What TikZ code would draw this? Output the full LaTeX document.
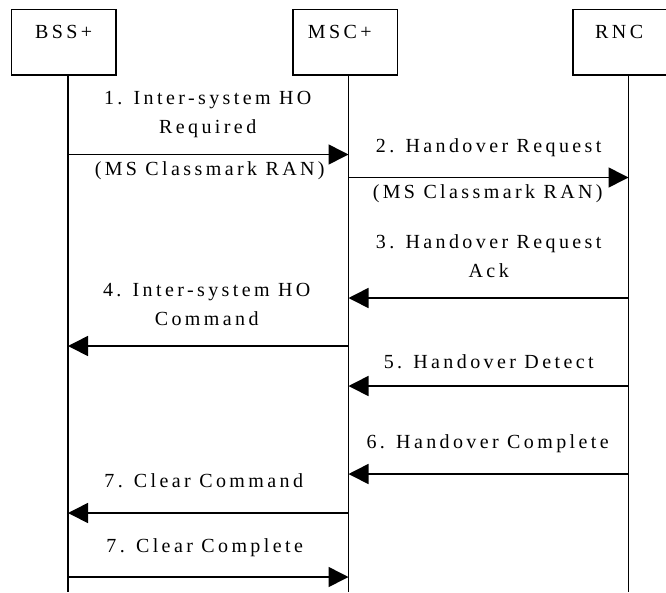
\documentclass[tikz,border=0pt]{standalone}
\usepackage{fontspec}
\setmainfont[LetterSpace=17]{Liberation Serif}
\usetikzlibrary{arrows.meta}

\tikzset{
  entity/.style={draw, line width=1.5pt, minimum width=104.5pt, minimum height=65.5pt,
                 inner sep=0pt, outer sep=0pt},
  lifeline/.style={line width=1.6pt},
  msg/.style={line width=1.6pt, -{Triangle[length=20pt,width=20pt]}},
  txt/.style={inner sep=0pt, anchor=base, align=center,
              font=\fontsize{20pt}{29pt}\selectfont},
}

\begin{document}
\begin{tikzpicture}[x=1pt, y=-1pt]
  \useasboundingbox (0,0) rectangle (666,592);
  \clip (0,0) rectangle (666,592);

  % entity boxes
  \node[entity] (bss) at (63.75,42.25) {};
  \node[entity] (msc) at (345,42.25) {};
  \node[entity] (rnc) at (625,42.25) {};
  \node[txt] (bsst) at (63.7,38) {BSS+};
  \node[txt] (msct) at (339.7,38) {MSC+};
  \node[txt] (rnct) at (619.2,38) {RNC};

  % lifelines
  \coordinate (bssA) at (68,75);    \coordinate (bssZ) at (68,592);
  \coordinate (mscA) at (348.5,75); \coordinate (mscZ) at (348.5,592);
  \coordinate (rncA) at (628.5,75); \coordinate (rncZ) at (628.5,592);
  \draw[lifeline] (bssA) -- (bssZ);
  \draw[lifeline] (mscA) -- (mscZ);
  \draw[lifeline] (rncA) -- (rncZ);

  % message end points on the lifelines
  \foreach \n/\y in {1/154.5, 2/177.5, 3/298, 4/346, 5/386, 6/474, 7/513, 8/577} {
    \coordinate (b\n) at (68,\y);
    \coordinate (m\n) at (348.5,\y);
    \coordinate (r\n) at (628.5,\y);
  }

  % messages
  \draw[msg] (b1) -- (m1);
  \draw[msg] (m2) -- (r2);
  \draw[msg] (r3) -- (m3);
  \draw[msg] (m4) -- (b4);
  \draw[msg] (r5) -- (m5);
  \draw[msg] (r6) -- (m6);
  \draw[msg] (m7) -- (b7);
  \draw[msg] (b8) -- (m8);

  % message labels (base = baseline of the last line)
  \node[txt] (l1)  at (207.7,133) {1. Inter-system HO\\Required};
  \node[txt] (l1p) at (209.7,175) {(MS Classmark RAN)};
  \node[txt] (l2)  at (488.7,152) {2. Handover Request};
  \node[txt] (l2p) at (487.7,198) {(MS Classmark RAN)};
  \node[txt] (l3)  at (488.7,277) {3. Handover Request\\Ack};
  \node[txt] (l4)  at (206.7,325) {4. Inter-system HO\\Command};
  \node[txt] (l5)  at (488.7,368) {5. Handover Detect};
  \node[txt] (l6)  at (487.7,448) {6. Handover Complete};
  \node[txt] (l7)  at (203.7,487) {7. Clear Command};
  \node[txt] (l8)  at (204.7,552) {7. Clear Complete};
\end{tikzpicture}
\end{document}
